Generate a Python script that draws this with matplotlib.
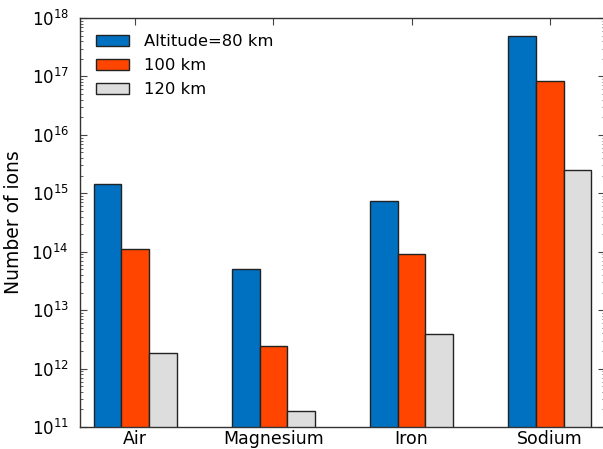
import numpy as np
import matplotlib
matplotlib.use("Agg")
import matplotlib.pyplot as plt

# ion counts per species at three altitudes
species = ["Air", "Magnesium", "Iron", "Sodium"]
series_labels = ["Altitude=80 km", "100 km", "120 km"]
ions_80km = [1.43e15, 5.06e13, 7.4e14, 5.0e17]
ions_100km = [1.13e14, 2.47e12, 9.3e13, 8.4e16]
ions_120km = [1.87e12, 1.86e11, 3.9e12, 2.5e15]

colors = ["#0070c0", "#ff4500", "#dddddd"]

fig = plt.figure(figsize=(6.03, 4.49), dpi=100)
ax = fig.add_axes([80 / 603, 22 / 449, 525 / 603, 409 / 449])

ind = np.arange(len(species))
width = 0.2
for i, (vals, lab, col) in enumerate(zip([ions_80km, ions_100km, ions_120km], series_labels, colors)):
    ax.bar(ind + (i - 1) * width, vals, width, color=col, edgecolor="#222222",
           linewidth=1.0, label=lab, zorder=2)

ax.set_yscale("log")
ax.set_ylim(1e11, 1e18)
ax.set_xlim(-0.4, 3.4)
ax.set_xticks(ind)
ax.set_xticklabels(species, fontsize=12.5)
ax.set_ylabel("Number of ions", fontsize=13.5, labelpad=6)

ax.tick_params(axis="both", which="both", direction="in", top=True, right=True)
ax.tick_params(axis="both", which="major", length=5, width=0.8, color="#444444")
ax.tick_params(axis="both", which="minor", length=2.5, width=0.6, color="#444444")
ax.tick_params(axis="y", labelsize=12, pad=8)
ax.tick_params(axis="x", pad=2)
for s in ax.spines.values():
    s.set_linewidth(1.0)
    s.set_color("#333333")

ax.legend(loc="upper left", frameon=False, fontsize=11.8, handlelength=2.0,
          handleheight=0.65, handletextpad=0.9, labelspacing=0.55,
          borderaxespad=0.6, bbox_to_anchor=(0.0, 1.0))

fig.savefig("out.png", dpi=100, facecolor="white")
